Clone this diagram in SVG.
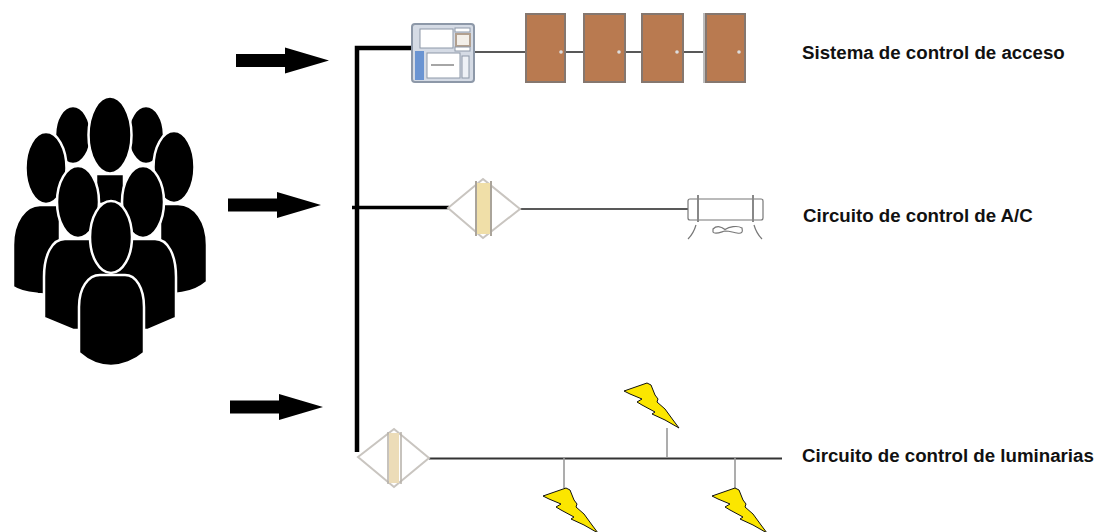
<svg xmlns="http://www.w3.org/2000/svg" xmlns:xlink="http://www.w3.org/1999/xlink" width="1098" height="532" viewBox="0 0 1098 532">
<style>
text{font-family:"Liberation Sans",Arial,sans-serif;font-size:18.700px;font-weight:bold;fill:#111}
.p{fill:#000;stroke:#fff;stroke-width:2.500}
.door{fill:#b97a50;stroke:#85776f;stroke-width:2}
.wire{fill:none;stroke:#222;stroke-width:1.500}
.bus{fill:none;stroke:#000;stroke-width:4.500}
.tee{stroke:#999;stroke-width:1.600}
.bolt{fill:#fbe600;stroke:#111;stroke-width:1}
.dia{fill:#fff;stroke:#c9c5c0;stroke-width:2}
</style>
<defs>
<path id="arrow" d="M0 6H49V-.5L93 12.500 49 25.500V19H0Z" fill="#000"/>
<path id="bolt" class="bolt" d="M0 0 23-8 27-6 31 4 34 8 33 11 41 18 49 29 55 37 41 29 28 23 31 21 18 14 13 11 18 8 6 3Z"/>
</defs>
<rect width="1098" height="532" fill="#fff"/>
<g id="people">
<ellipse class="p" cx="73" cy="135" rx="18" ry="29"/>
<ellipse class="p" cx="146" cy="135" rx="18" ry="29"/>
<rect class="p" x="96" y="174" width="28" height="30"/>
<ellipse class="p" cx="110" cy="135" rx="21.500" ry="38.500"/>
<ellipse class="p" cx="46" cy="168" rx="20.500" ry="36"/>
<ellipse class="p" cx="174" cy="167" rx="20.500" ry="36"/>
<path class="p" d="M13 287V245C13 222 25 205 40 205H60V296L38 294C30 293 20 292 13 287Z"/>
<path class="p" d="M207 282V245C207 222 195 204 178 204H160V296L182 293C190 292 200 288 207 282Z"/>
<ellipse class="p" cx="78" cy="202" rx="21" ry="36"/>
<ellipse class="p" cx="143" cy="202" rx="21" ry="36"/>
<path class="p" d="M44 318V277C44 255 52 239 65 239H155C168 239 176 255 176 277V318L148 330H73Z"/>
<ellipse class="p" cx="111" cy="237" rx="21" ry="36"/>
<path class="p" d="M79 353V307C79 288 88 275 100 275H125C136 275 144 288 144 307V353C135 361 122 366 111 366C100 366 88 361 79 353Z"/>
</g>
<g id="arrows">
<use xlink:href="#arrow" href="#arrow" x="236" y="48"/>
<use xlink:href="#arrow" href="#arrow" x="228" y="192.500"/>
<use xlink:href="#arrow" href="#arrow" x="230" y="394.500"/>
</g>
<g id="connectors">
<path class="bus" d="M357 452V48H415"/>
<path d="M352 207.500H449" fill="none" stroke="#000" stroke-width="3.500"/>
<path class="wire" d="M475 52H525M562 52H583M620 52H641M678 52H703"/>
<path class="wire" d="M520 209H688"/>
<path d="M429 458.500H782" fill="none" stroke="#333" stroke-width="2"/>
<path class="tee" d="M564 458V488M667 458V428M735 458V488"/>
</g>
<g id="controller">
<rect x="412" y="24" width="62" height="58" rx="3" fill="#d5dbe5" stroke="#8d98a8" stroke-width="2"/>
<rect x="415" y="51" width="9" height="29" fill="#6a94d2"/>
<rect x="420" y="29" width="33" height="19" fill="#fff" stroke="#8d98a8"/>
<rect x="456" y="34" width="14" height="12" fill="#f3efe9" stroke="#b2a08f" stroke-width="2"/>
<rect x="455" y="28" width="15" height="4" fill="#fff" stroke="#8d98a8"/>
<rect x="455" y="47" width="15" height="4" fill="#fff" stroke="#8d98a8"/>
<rect x="427" y="53" width="33" height="25" fill="#fff" stroke="#8d98a8"/>
<path d="M431 65H454" stroke="#888" stroke-width="1.500"/>
<rect x="462" y="56" width="7" height="22" fill="#eef1f6" stroke="#8d98a8"/>
</g>
<g id="door1"><rect class="door" x="526" y="14" width="39" height="68"/><circle cx="561" cy="52" r="1.800" fill="#ddd"/></g>
<g id="door2"><rect class="door" x="584" y="14" width="41" height="68"/><circle cx="619" cy="52" r="1.800" fill="#ddd"/></g>
<g id="door3"><rect class="door" x="642" y="14" width="41" height="68"/><circle cx="677" cy="52" r="1.800" fill="#ddd"/></g>
<g id="door4"><rect x="703" y="13" width="8" height="70" fill="#bdbdbd"/><rect class="door" x="706" y="14" width="39" height="68"/><circle cx="739" cy="52" r="1.800" fill="#ddd"/></g>
<g id="ac-controller">
<path class="dia" d="M448 208 483 179 520 209 483 238Z"/>
<rect x="476" y="183" width="14" height="51" fill="#f0dfa8"/>
<path d="M476 181V236M491 181V236" stroke="#aaa49a" stroke-width="2"/>
</g>
<g id="ac-unit" fill="none" stroke="#777" stroke-width="1.200">
<rect x="688" y="199" width="75" height="21" rx="2"/>
<path d="M698 195V222M753 195V222" stroke-width="2" stroke="#888"/>
<path d="M696 225C694 232 691 236 688 239M754 225C756 232 759 236 762 239"/>
<path d="M713 229C717 225 722 227 725 229.500 729 227 737 225 742 228 743 232 742 234 737 233 732 232 729 231 725 231 721 232 715 235 713 232Z"/>
</g>
<g id="light-controller">
<path class="dia" d="M358 457 394 429 429 458 394 487Z"/>
<rect x="389" y="433" width="10" height="50" fill="#ecdcb8"/>
<path d="M388 432V484M401 432V484" stroke="#b5b0a8" stroke-width="1.500"/>
</g>
<g id="light1"><use xlink:href="#bolt" href="#bolt" x="624" y="391"/></g>
<g id="light2"><use xlink:href="#bolt" href="#bolt" x="543" y="496"/></g>
<g id="light3"><use xlink:href="#bolt" href="#bolt" x="712" y="496"/></g>
<g id="labels">
<text x="802" y="59">Sistema de control de acceso</text>
<text x="803" y="222">Circuito de control de A/C</text>
<text x="802" y="462">Circuito de control de luminarias</text>
</g>
</svg>
